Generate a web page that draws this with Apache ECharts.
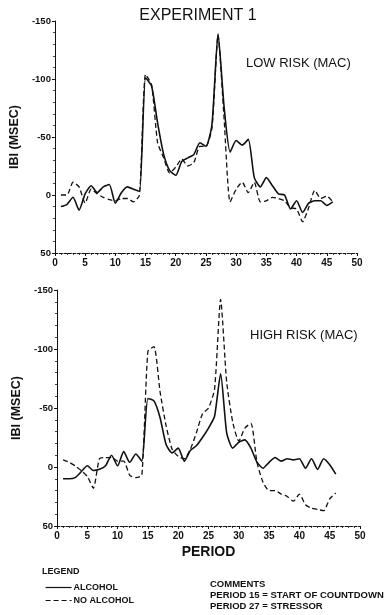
<!DOCTYPE html>
<html>
<head>
<meta charset="utf-8">
<script src="https://cdn.jsdelivr.net/npm/echarts@6/dist/echarts.min.js"></script>
<style>
html,body{margin:0;padding:0;background:#fff;}
#chart{width:391px;height:615px;}
</style>
</head>
<body>
<div id="chart"></div>
<script>
// Periods 1..46
var periods = [1,2,3,4,5,6,7,8,9,10,11,12,13,14,15,16,17,18,19,20,21,22,23,24,25,26,27,28,29,30,31,32,33,34,35,36,37,38,39,40,41,42,43,44,45,46];

// LOW RISK (MAC)
var lowAlcohol   = [10,8,2,13,-1,-8,-2,-7,-9,7,-2,-7,-5,-3,-101,-94,-62,-35,-21,-17,-29,-32,-35,-45,-42,-61,-139,-76,-37,-47,-43,-48,-15,-7,-15,-8,-1,0,12,5,15,7,5,5,9,6];
var lowNoAlcohol = [0,0,-11,-7,7,-5,-1,2,4,5,3,3,6,0,-104,-95,-45,-32,-19,-24,-31,-25,-28,-42,-42,-58,-138,-66,6,-5,-11,-2,-11,6,5,2,3,5,11,12,23,11,-4,3,1,6];

// HIGH RISK (MAC)
var highAlcohol   = [10,10,9,4,-1,3,2,-1,-10,-1,-13,-4,-11,-5,-58,-56,-42,-19,-12,-16,-5,-14,-18,-25,-33,-43,-79,-29,-16,-21,-23,-16,-4,1,-4,-8,-5,-7,-6,-7,1,-7,2,-7,-2,6];
var highNoAlcohol = [-6,-4,-1,3,8,18,-7,-8,-8,-5,-5,7,9,7,-98,-102,-64,-35,-15,-9,-7,-15,-29,-45,-50,-66,-142,-72,-38,-22,-33,-37,-4,13,20,20,23,25,29,23,32,35,36,37,27,22];

var yTicks = [-150,-100,-50,0,50];
var xTicks = [0,5,10,15,20,25,30,35,40,45,50];

function pairs(vals){ return periods.map(function(p,i){ return [p, vals[i]]; }); }

var FONT = 'Liberation Sans, Arial, Helvetica, sans-serif';

function xAxisCfg(idx, withName){
  var a = {
    type:'value', gridIndex:idx, min:xTicks[0], max:xTicks[xTicks.length-1], interval:5,
    position:'bottom',
    axisLine:{show:true, onZero:false, lineStyle:{color:'#111', width:1, type:[3,1.5]}},
    axisTick:{show:true, length:3, lineStyle:{color:'#111', width:1}},
    minorTick:{show:true, splitNumber:5, length:2, lineStyle:{color:'#111', width:0.8}},
    splitLine:{show:false},
    axisLabel:{color:'#111', fontSize:10, fontWeight:'bold', fontFamily:FONT, margin:5}
  };
  if(withName){
    a.name='PERIOD'; a.nameLocation='middle'; a.nameGap=19;
    a.nameTextStyle={color:'#111', fontSize:14, fontWeight:'bold', fontFamily:FONT};
  }
  return a;
}
function yAxisCfg(idx){
  return {
    type:'value', gridIndex:idx, min:yTicks[0], max:yTicks[yTicks.length-1], interval:50, inverse:true,
    name:'IBI (MSEC)', nameLocation:'middle', nameGap:30,
    nameTextStyle:{color:'#111', fontSize:12.5, fontWeight:'bold', fontFamily:FONT},
    axisLine:{show:true, onZero:false, lineStyle:{color:'#111', width:1}},
    axisTick:{show:true, length:3, lineStyle:{color:'#111', width:1}},
    minorTick:{show:true, splitNumber:5, length:2, lineStyle:{color:'#111', width:0.8}},
    splitLine:{show:false},
    axisLabel:{color:'#111', fontSize:9.5, fontWeight:'bold', fontFamily:FONT, margin:4}
  };
}
function lineSeries(name, data, idx, dashed){
  return {
    name:name, type:'line', xAxisIndex:idx, yAxisIndex:idx, data:pairs(data),
    symbol:'none', smooth:0.2, animation:false,
    lineStyle:{color:'#111', width: dashed?1.3:1.6, type: dashed?[5,3]:'solid'},
    itemStyle:{color:'#111'}
  };
}

var chart = echarts.init(document.getElementById('chart'), null, {renderer:'canvas'});
chart.setOption({
  backgroundColor:'#fff',
  animation:false,
  grid:[
    {left:53, right:34, top:21, bottom:362},
    {left:57, right:31, top:290, bottom:89}
  ],
  xAxis:[xAxisCfg(0,false), xAxisCfg(1,true)],
  yAxis:[yAxisCfg(0), yAxisCfg(1)],
  legend:{
    orient:'vertical', left:40, top:578, itemWidth:26, itemHeight:6, itemGap:4,
    data:['ALCOHOL','NO ALCOHOL'],
    itemStyle:{opacity:0},
    lineStyle:{width:1.2},
    textStyle:{color:'#111', fontSize:9, fontWeight:'bold', fontFamily:FONT, padding:[0,0,0,-3]},
    selectedMode:false
  },
  graphic:[
    {type:'text', x:198, y:16, style:{text:'EXPERIMENT 1', align:'center', verticalAlign:'middle', font:'normal 16px '+FONT, fill:'#111'}},
    {type:'text', x:246, y:63, style:{text:'LOW RISK (MAC)', align:'left', verticalAlign:'middle', font:'normal 13px '+FONT, fill:'#111'}},
    {type:'text', x:250, y:335, style:{text:'HIGH RISK (MAC)', align:'left', verticalAlign:'middle', font:'normal 13px '+FONT, fill:'#111'}},
    {type:'text', x:42, y:572, style:{text:'LEGEND', align:'left', verticalAlign:'middle', font:'bold 9px '+FONT, fill:'#111'}},
    {type:'text', x:210, y:584, style:{text:'COMMENTS', align:'left', verticalAlign:'middle', font:'bold 9.5px '+FONT, fill:'#111'}},
    {type:'text', x:210, y:595, style:{text:'PERIOD 15 = START OF COUNTDOWN', align:'left', verticalAlign:'middle', font:'bold 9.5px '+FONT, fill:'#111'}},
    {type:'text', x:210, y:606, style:{text:'PERIOD 27 = STRESSOR', align:'left', verticalAlign:'middle', font:'bold 9.5px '+FONT, fill:'#111'}}
  ],
  series:[
    lineSeries('ALCOHOL', lowAlcohol, 0, false),
    lineSeries('NO ALCOHOL', lowNoAlcohol, 0, true),
    lineSeries('ALCOHOL', highAlcohol, 1, false),
    lineSeries('NO ALCOHOL', highNoAlcohol, 1, true)
  ]
});
</script>
</body>
</html>
